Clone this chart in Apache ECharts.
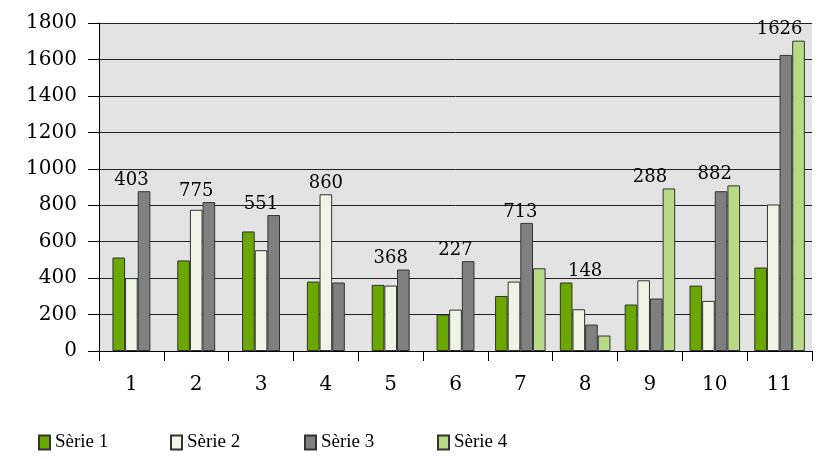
<!DOCTYPE html>
<html><head><meta charset="utf-8">
<script src="https://cdn.jsdelivr.net/npm/echarts@6/dist/echarts.min.js"></script>
<style>html,body{margin:0;padding:0;background:#fff}#c{width:823px;height:459px}</style>
</head><body><div id="c"></div>
<script>
const categories = ['1','2','3','4','5','6','7','8','9','10','11'];
const serie1 = [513, 497, 656, 381, 363, 200, 302, 376, 255, 359, 458];
const serie2 = [400, 775, 553, 860, 359, 227, 381, 229, 388, 275, 804];
const serie3 = [877, 817, 746, 376, 447, 493, 703, 145, 288, 877, 1625];
const serie4 = [null, null, null, null, null, null, 454, 85, 892, 909, 1703];
const dataLabels = [403, 775, 551, 860, 368, 227, 713, 148, 288, 882, 1626];
const yTicks = [0, 200, 400, 600, 800, 1000, 1200, 1400, 1600, 1800];
const seriesNames = ['Sèrie 1', 'Sèrie 2', 'Sèrie 3', 'Sèrie 4'];
const colors = ['#6aa800', '#eef5e4', '#808080', '#b8d986'];

const numFont = 'DejaVu Serif';
const txtFont = 'Liberation Serif';

// categories that have a fourth bar are laid out on a second (hidden) axis
const has4 = serie4.map(v => v != null);
const pick = (arr, four) => arr.map((v, i) => (has4[i] === four ? v : null));
const allSeries = [serie1, serie2, serie3, serie4];

const barBase = (name, idx, data, axis) => ({
  name, type: 'bar', xAxisIndex: axis, data,
  barWidth: '19.5%', barGap: '0%',
  itemStyle: { color: colors[idx], borderColor: '#333', borderWidth: 1 },
  emphasis: { disabled: true }, animation: false
});

const series = [];
for (let s = 0; s < 3; s++) series.push(barBase(seriesNames[s], s, pick(allSeries[s], false), 0));
for (let s = 0; s < 4; s++) series.push(barBase(seriesNames[s], s, pick(allSeries[s], true), 1));

const groupMax = categories.map((c, i) => Math.max(...allSeries.map(a => a[i] == null ? 0 : a[i])));
series.push({
  type: 'scatter', xAxisIndex: 0, symbolSize: 0, silent: true, animation: false,
  data: groupMax, itemStyle: { color: '#000', opacity: 1 },
  label: {
    show: true, position: 'top', distance: 2,
    formatter: p => String(dataLabels[p.dataIndex]),
    fontFamily: numFont, fontSize: 18, color: '#000', opacity: 1
  },
  z: 10
});

const legendLefts = [33, 165, 299, 432];
const legends = seriesNames.map((n, i) => ({
  data: [n], left: legendLefts[i], top: 428, icon: 'rect',
  itemWidth: 11, itemHeight: 14, itemGap: 5,
  textStyle: { fontFamily: txtFont, fontSize: 19, color: '#000' }
}));

const chart = echarts.init(document.getElementById('c'), null, { renderer: 'canvas' });
chart.setOption({
  animation: false,
  legend: legends,
  grid: { left: 99, right: 11, top: 23, bottom: 108, show: true, backgroundColor: '#e3e3e3', borderWidth: 0 },
  xAxis: [
    {
      type: 'category', data: categories, position: 'bottom',
      axisLine: { show: true, lineStyle: { color: '#000', width: 1 } },
      axisTick: { show: true, length: 10, lineStyle: { color: '#000' } },
      axisLabel: { margin: 24, fontFamily: numFont, fontSize: 20, color: '#000' },
      z: 5
    },
    { type: 'category', data: categories, position: 'bottom', show: false }
  ],
  yAxis: {
    type: 'value', min: yTicks[0], max: yTicks[yTicks.length - 1], interval: 200,
    axisLine: { show: true, lineStyle: { color: '#000', width: 1 } },
    axisTick: { show: true, length: 11, lineStyle: { color: '#000' } },
    axisLabel: { margin: 22, fontFamily: numFont, fontSize: 20, color: '#000', formatter: v => String(v) },
    splitLine: { show: true, lineStyle: { color: '#222', width: 1 } }
  },
  series
});
</script></body></html>
